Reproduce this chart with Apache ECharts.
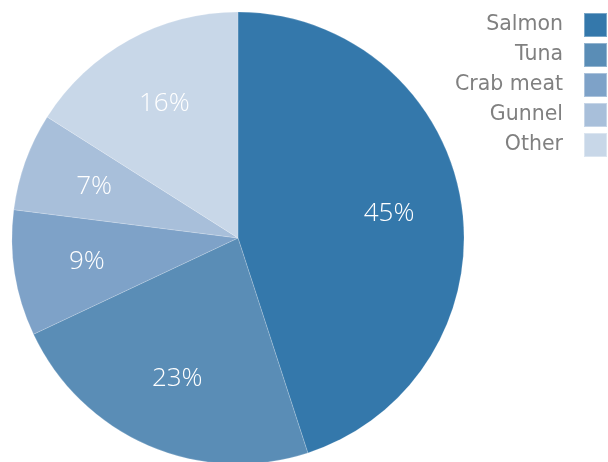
<!DOCTYPE html>
<html>
<head>
<meta charset="utf-8">
<script src="https://cdn.jsdelivr.net/npm/echarts@6/dist/echarts.min.js"></script>
<style>
  html, body { margin: 0; padding: 0; background: #fff; }
  #chart { width: 608px; height: 462px; }
</style>
</head>
<body>
<div id="chart"></div>
<script>
// Catch composition by species (percent of total)
const categories = ['Salmon', 'Tuna', 'Crab meat', 'Gunnel', 'Other'];
const shares = [45, 23, 9, 7, 16];
const colors = ['#3478ab', '#5a8db6', '#7ea2c8', '#a8bfda', '#c8d7e8'];

const data = categories.map((name, i) => ({
  name: name,
  value: shares[i],
  itemStyle: { color: colors[i] }
}));

const chart = echarts.init(document.getElementById('chart'), null, { renderer: 'canvas' });

const center = [238, 238];
const outer = 226;

chart.setOption({
  animation: false,
  legend: {
    orient: 'vertical',
    right: 0,
    top: 12,
    padding: 0,
    align: 'right',
    itemWidth: 23,
    itemHeight: 24,
    itemGap: 4,
    icon: 'rect',
    selectedMode: false,
    textStyle: {
      color: '#808080',
      fontSize: 20.5,
      lineHeight: 24,
      fontFamily: 'DejaVu Sans',
      padding: [0, 16, 0, 0]
    },
    data: categories
  },
  series: [
    {
      // the slices themselves
      type: 'pie',
      center: center,
      radius: [0, outer],
      startAngle: 90,
      clockwise: true,
      silent: true,
      label: { show: false },
      labelLine: { show: false },
      itemStyle: { borderColor: 'rgba(255,255,255,0.35)', borderWidth: 0.5 },
      data: data
    },
    {
      // percentage labels placed a bit further out than the default inside position
      type: 'pie',
      center: center,
      radius: [74, outer],
      startAngle: 90,
      clockwise: true,
      silent: true,
      legendHoverLink: false,
      itemStyle: { color: 'rgba(0,0,0,0)', borderWidth: 0 },
      label: {
        show: true,
        position: 'inside',
        formatter: '{c}%',
        color: '#ffffff',
        fontSize: 26,
        fontWeight: 300,
        fontFamily: 'Open Sans'
      },
      labelLine: { show: false },
      data: categories.map((name, i) => ({ name: name, value: shares[i] }))
    }
  ]
});
</script>
</body>
</html>
